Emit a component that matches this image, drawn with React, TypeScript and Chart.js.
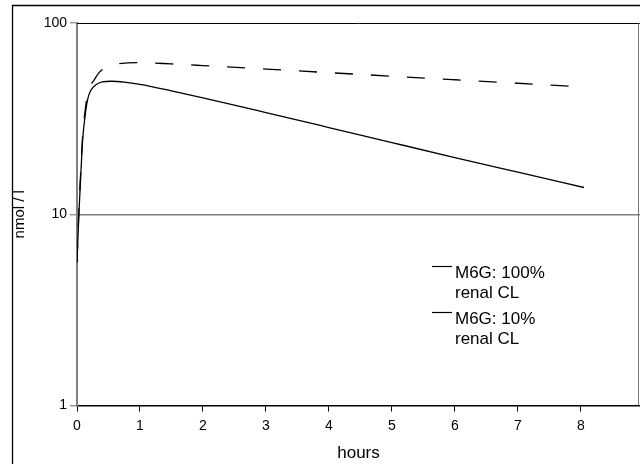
import React, { useEffect, useRef } from "react";
import { Chart, registerables } from "chart.js";

Chart.register(...registerables);

// Time (hours) and concentration (nmol / l)
const hoursFull = [0, 0.03, 0.06, 0.09, 0.13, 0.17, 0.22, 0.3, 0.4, 0.55, 0.75, 1.0, 1.5, 2, 3, 4, 5, 6, 7, 8.05];
const m6gFullRenal = [5.6, 10, 16, 24.5, 33, 40, 44.5, 47.5, 49.2, 49.6, 49.1, 47.8, 44.2, 40.6, 34.0, 28.4, 23.7, 19.8, 16.6, 13.8];

const hoursLow = [0, 0.03, 0.06, 0.09, 0.13, 0.17, 0.22, 0.26, 0.35, 0.44, 0.6, 0.8, 1.0, 1.5, 2, 3, 4, 5, 6, 7, 8];
const m6gLowRenal = [5.6, 10.5, 17, 26, 35, 43, 47.5, 49.6, 55, 58.2, 60.8, 61.8, 62, 61.1, 59.9, 57.4, 55.0, 52.7, 50.5, 48.4, 46.4];

const xTicks = [0, 1, 2, 3, 4, 5, 6, 7, 8];
const yTicks = [1, 10, 100];
const legendLabels = [
  ["M6G: 100%", "renal CL"],
  ["M6G: 10%", "renal CL"],
];

const FONT = "'Liberation Sans', Arial, sans-serif";

const framePlugin = {
  id: "frame",
  beforeDraw(chart: any) {
    const ctx = chart.ctx;
    ctx.save();
    ctx.fillStyle = "#fff";
    ctx.fillRect(0, 0, chart.width, chart.height);
    ctx.strokeStyle = "#000";
    ctx.lineWidth = 1.3;
    ctx.beginPath();
    ctx.moveTo(12.5, chart.height + 2);
    ctx.lineTo(12.5, 5.5);
    ctx.lineTo(chart.width + 2, 5.5);
    ctx.stroke();
    ctx.restore();
  },
  afterDraw(chart: any) {
    const { ctx, chartArea } = chart;
    ctx.save();
    ctx.strokeStyle = "#000";
    ctx.lineWidth = 1;
    ctx.beginPath();
    ctx.moveTo(chartArea.left, Math.round(chartArea.top) + 0.5);
    ctx.lineTo(chartArea.right, Math.round(chartArea.top) + 0.5);
    ctx.stroke();
    ctx.strokeStyle = "#777";
    ctx.beginPath();
    ctx.moveTo(chart.width - 1.5, chartArea.top);
    ctx.lineTo(chart.width - 1.5, chartArea.bottom);
    ctx.stroke();

    // legend
    ctx.fillStyle = "#000";
    ctx.font = `17px ${FONT}`;
    ctx.textBaseline = "alphabetic";
    ctx.textAlign = "left";
    const starts = [266, 312];
    legendLabels.forEach((lines, i) => {
      const y0 = starts[i];
      ctx.strokeStyle = "#000";
      ctx.lineWidth = 1.2;
      ctx.beginPath();
      ctx.moveTo(432, y0 + 0.5);
      ctx.lineTo(452, y0 + 0.5);
      ctx.stroke();
      lines.forEach((t, j) => {
        ctx.fillText(t, 455, y0 + 11.5 + j * 20);
      });
    });
    ctx.restore();
  },
};

export default function App() {
  const ref = useRef<HTMLCanvasElement | null>(null);

  useEffect(() => {
    if (!ref.current) return;
    const chart = new Chart(ref.current, {
      type: "line",
      data: {
        datasets: [
          {
            label: "M6G: 100% renal CL",
            data: hoursFull.map((x, i) => ({ x, y: m6gFullRenal[i] })),
            borderColor: "#000",
            borderWidth: 1.3,
            pointRadius: 0,
            cubicInterpolationMode: "monotone",
            fill: false,
          },
          {
            label: "M6G: 10% renal CL",
            data: hoursLow.map((x, i) => ({ x, y: m6gLowRenal[i] })),
            borderColor: "#000",
            borderWidth: 1.3,
            borderDash: [18, 18],
            pointRadius: 0,
            cubicInterpolationMode: "monotone",
            fill: false,
          },
        ],
      },
      options: {
        responsive: false,
        animation: false,
        layout: { padding: { top: 23, left: 0, right: 0, bottom: 0 } },
        plugins: {
          legend: { display: false },
          tooltip: { enabled: false },
        },
        scales: {
          x: {
            type: "linear",
            min: 0,
            max: 8.94,
            afterBuildTicks: (s: any) => {
              s.ticks = xTicks.map((v) => ({ value: v }));
            },
            afterFit: (s: any) => {
              s.height = 58.5;
            },
            ticks: {
              color: "#000",
              font: { family: FONT, size: 14 },
              padding: 6,
              maxRotation: 0,
              callback: (v: any) => String(v),
            },
            grid: {
              drawOnChartArea: false,
              drawTicks: true,
              tickLength: 6,
              tickColor: "#000",
              tickWidth: 1,
            },
            border: { display: true, color: "#000", width: 1.5 },
            title: {
              display: true,
              text: "hours",
              color: "#000",
              font: { family: FONT, size: 17 },
              padding: { top: 0, bottom: 0 },
            },
          },
          y: {
            type: "logarithmic",
            min: 1,
            max: 100,
            afterBuildTicks: (s: any) => {
              s.ticks = yTicks.map((v) => ({ value: v }));
            },
            afterFit: (s: any) => {
              s.width = 77;
            },
            ticks: {
              color: "#000",
              font: { family: FONT, size: 14 },
              padding: 3,
              callback: (v: any) => String(v),
            },
            grid: {
              color: (c: any) => (c.tick && c.tick.value === 10 ? "#808080" : "rgba(0,0,0,0)"),
              lineWidth: 1.5,
              drawTicks: true,
              tickLength: 7,
              tickColor: "#808080",
              tickWidth: 1.2,
            },
            border: { display: true, color: "#808080", width: 2 },
            title: {
              display: true,
              text: "nmol / l",
              color: "#000",
              font: { family: FONT, size: 15 },
              padding: { top: 11, bottom: 0 },
            },
          },
        },
      },
      plugins: [framePlugin],
    } as any);
    return () => chart.destroy();
  }, []);

  return (
    <div style={{ position: "fixed", left: 0, top: 0, width: 640, height: 464, background: "#fff" }}>
      <canvas ref={ref} width={640} height={464} style={{ display: "block", width: 640, height: 464 }} />
    </div>
  );
}
